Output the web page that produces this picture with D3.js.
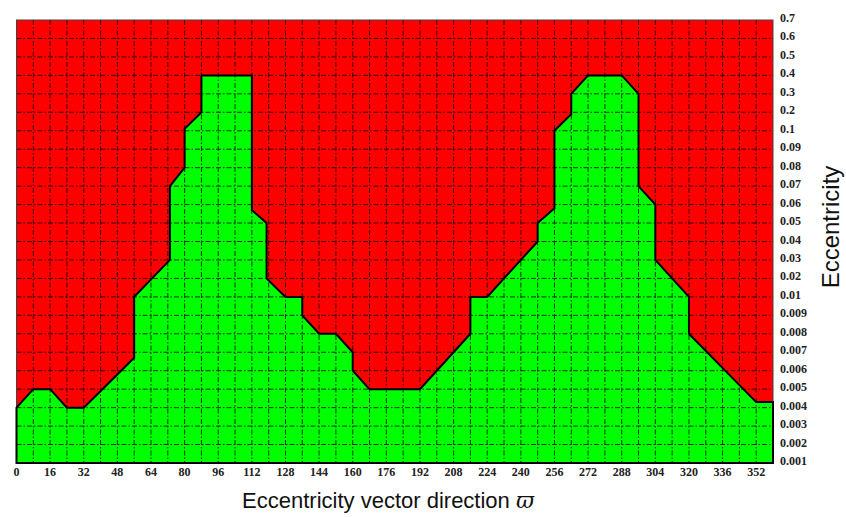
<!DOCTYPE html>
<html>
<head>
<meta charset="utf-8">
<script src="https://cdn.jsdelivr.net/npm/d3@7/dist/d3.min.js"></script>
<style>
  body { margin: 0; background: #fff; }
  svg { display: block; }
</style>
</head>
<body>
<svg id="chart" width="846" height="517"></svg>
<script>
// Eccentricity levels on the (evenly spaced) vertical axis, bottom to top
const eccentricityLevels = [0.001, 0.002, 0.003, 0.004, 0.005, 0.006, 0.007, 0.008, 0.009,
  0.01, 0.02, 0.03, 0.04, 0.05, 0.06, 0.07, 0.08, 0.09,
  0.1, 0.2, 0.3, 0.4, 0.5, 0.6, 0.7];
const eccentricityLabels = ["0.001", "0.002", "0.003", "0.004", "0.005", "0.006", "0.007", "0.008", "0.009",
  "0.01", "0.02", "0.03", "0.04", "0.05", "0.06", "0.07", "0.08", "0.09",
  "0.1", "0.2", "0.3", "0.4", "0.5", "0.6", "0.7"];

// Direction ticks (degrees) and grid spacing
const directionTicks = [0, 16, 32, 48, 64, 80, 96, 112, 128, 144, 160, 176, 192, 208, 224,
  240, 256, 272, 288, 304, 320, 336, 352];
const directionGrid = [8, 16, 24, 32, 40, 48, 56, 64, 72, 80, 88, 96, 104, 112, 120, 128, 136,
  144, 152, 160, 168, 176, 184, 192, 200, 208, 216, 224, 232, 240, 248, 256, 264, 272, 280,
  288, 296, 304, 312, 320, 328, 336, 344, 352];

// Boundary between the stable (green, below) and unstable (red, above) regions
const boundaryDirection = [0, 8, 16, 24, 32, 56, 56, 73, 73, 80, 80, 88, 88, 112, 112, 119, 119,
  128, 136, 136, 144, 152, 160, 160, 168, 192, 216, 216, 224, 248, 248, 256, 256, 264, 264,
  272, 288, 296, 296, 304, 304, 320, 320, 352, 360];
const boundaryEccentricity = [0.004, 0.005, 0.005, 0.004, 0.004, 0.0067, 0.01, 0.03, 0.07, 0.08,
  0.11, 0.2, 0.4, 0.4, 0.057, 0.05, 0.02, 0.01, 0.01, 0.009, 0.008, 0.008, 0.007, 0.006, 0.005,
  0.005, 0.008, 0.01, 0.01, 0.04, 0.05, 0.058, 0.1, 0.19, 0.3, 0.4, 0.4, 0.3, 0.07, 0.06, 0.03,
  0.01, 0.008, 0.0043, 0.0043];

const svg = d3.select("#chart");
const plot = { left: 16.5, right: 773, top: 20, bottom: 463 };

const x = d3.scaleLinear().domain([0, 360]).range([plot.left, plot.right]);

// Piecewise-linear scale: every listed level gets an equal step
const step = (plot.bottom - plot.top) / (eccentricityLevels.length - 1);
const y = d3.scaleLinear()
  .domain(eccentricityLevels)
  .range(eccentricityLevels.map((_, i) => plot.bottom - i * step));

const boundary = boundaryDirection.map((d, i) => [d, boundaryEccentricity[i]]);

// Unstable background
svg.append("rect")
  .attr("x", plot.left).attr("y", plot.top)
  .attr("width", plot.right - plot.left).attr("height", plot.bottom - plot.top)
  .attr("fill", "#ff0000");

// Stable region
const area = d3.area()
  .x(d => x(d[0]))
  .y0(y(eccentricityLevels[0]))
  .y1(d => y(d[1]));
svg.append("path")
  .datum(boundary)
  .attr("d", area)
  .attr("fill", "#00ff00");

// Dash-dot grid
const grid = svg.append("g")
  .attr("stroke", "#000")
  .attr("stroke-width", 1)
  .attr("stroke-dasharray", "5,2,1.5,2")
  .attr("opacity", 0.8);
grid.selectAll("line.v").data(directionGrid).join("line")
  .attr("class", "v")
  .attr("x1", d => x(d)).attr("x2", d => x(d))
  .attr("y1", plot.top).attr("y2", plot.bottom);
grid.selectAll("line.h").data(eccentricityLevels.slice(1, -1)).join("line")
  .attr("class", "h")
  .attr("y1", d => y(d)).attr("y2", d => y(d))
  .attr("x1", plot.left).attr("x2", plot.right);

// Frame
svg.append("rect")
  .attr("x", plot.left).attr("y", plot.top)
  .attr("width", plot.right - plot.left).attr("height", plot.bottom - plot.top)
  .attr("fill", "none").attr("stroke", "#444").attr("stroke-width", 1);

// Boundary outline (closed along the bottom and sides)
svg.append("path")
  .datum(boundary)
  .attr("d", area)
  .attr("fill", "none")
  .attr("stroke", "#000")
  .attr("stroke-width", 2)
  .attr("stroke-linejoin", "miter");

// Direction tick labels
svg.append("g")
  .attr("font-family", "'Liberation Serif', 'DejaVu Serif', serif")
  .attr("font-weight", "bold")
  .attr("font-size", 12)
  .attr("fill", "#222")
  .attr("text-anchor", "middle")
  .selectAll("text").data(directionTicks).join("text")
  .attr("x", d => x(d))
  .attr("y", plot.bottom + 13)
  .text(d => d);

// Eccentricity tick labels
svg.append("g")
  .attr("font-family", "'Liberation Serif', 'DejaVu Serif', serif")
  .attr("font-weight", "bold")
  .attr("font-size", 12)
  .attr("fill", "#222")
  .attr("text-anchor", "start")
  .selectAll("text").data(eccentricityLevels).join("text")
  .attr("x", plot.right + 7)
  .attr("y", d => y(d) + 2)
  .text((d, i) => eccentricityLabels[i]);

// Axis titles
const xTitle = svg.append("text")
  .attr("x", 388).attr("y", 508)
  .attr("text-anchor", "middle")
  .attr("font-family", "'Liberation Sans', Arial, sans-serif")
  .attr("font-size", 22)
  .attr("fill", "#111");
xTitle.append("tspan").text("Eccentricity vector direction ");
xTitle.append("tspan")
  .attr("font-family", "'DejaVu Serif', serif")
  .attr("font-style", "italic")
  .text("ϖ");

svg.append("text")
  .attr("transform", "translate(839,227) rotate(-90)")
  .attr("text-anchor", "middle")
  .attr("font-family", "'Liberation Sans', Arial, sans-serif")
  .attr("font-size", 24)
  .attr("fill", "#111")
  .text("Eccentricity");
</script>
</body>
</html>
